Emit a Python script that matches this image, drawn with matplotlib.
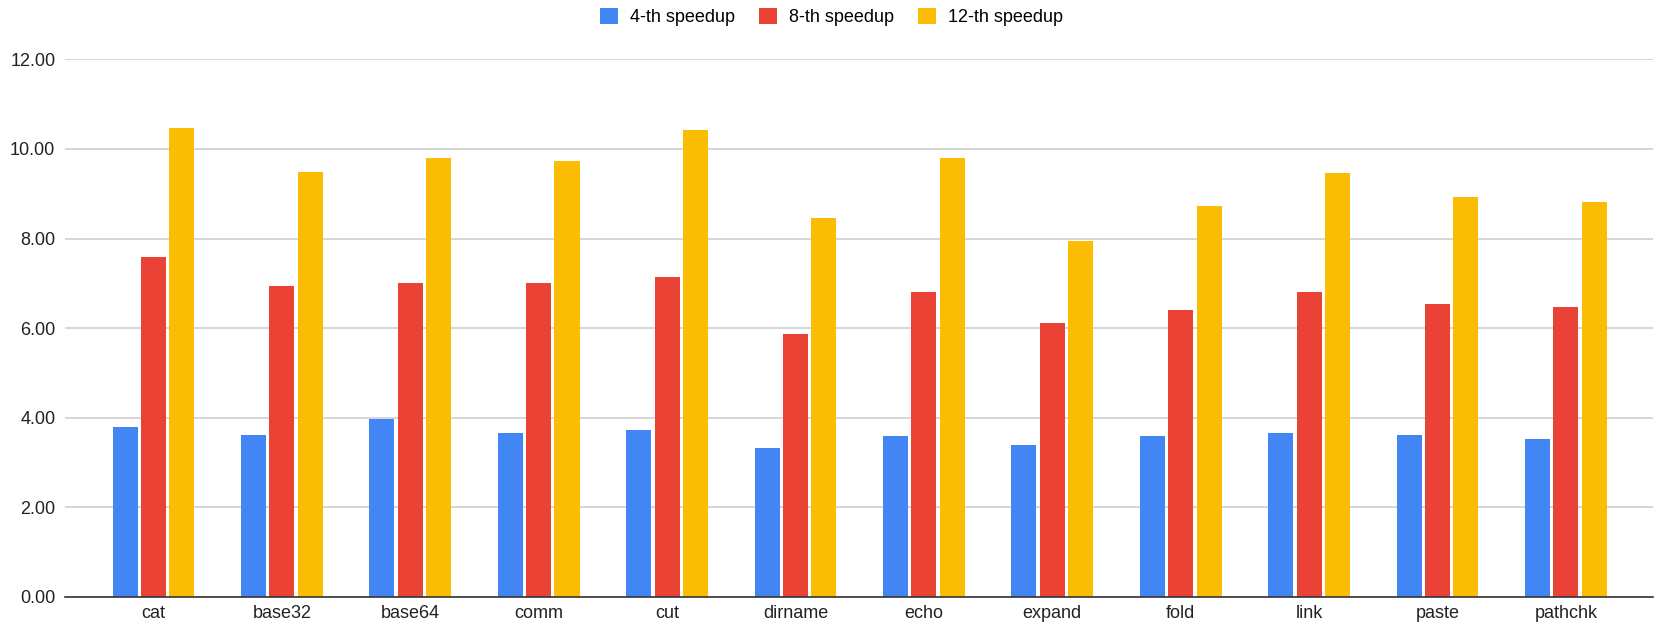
import numpy as np
import matplotlib as mpl
import matplotlib.pyplot as plt

mpl.rcParams['font.family'] = ['Liberation Sans', 'DejaVu Sans']

# data
tools = ['cat', 'base32', 'base64', 'comm', 'cut', 'dirname', 'echo',
         'expand', 'fold', 'link', 'paste', 'pathchk']
speedup_4 = [3.79, 3.62, 3.97, 3.66, 3.72, 3.32, 3.59, 3.39, 3.59, 3.65, 3.62, 3.53]
speedup_8 = [7.58, 6.94, 7.01, 7.01, 7.15, 5.87, 6.81, 6.11, 6.41, 6.81, 6.54, 6.48]
speedup_12 = [10.46, 9.49, 9.79, 9.73, 10.43, 8.45, 9.79, 7.95, 8.72, 9.46, 8.92, 8.82]
labels = ['4-th speedup', '8-th speedup', '12-th speedup']
colors = ['#4285F4', '#EA4335', '#FBBC04']

fig = plt.figure(figsize=(16.56, 6.24), dpi=100)
ax = fig.add_axes([0.0393, 0.0433, 0.959, 0.8617])

x = np.arange(len(tools))
w = 0.195
pitch = 0.221
for i, (vals, lbl, c) in enumerate(zip([speedup_4, speedup_8, speedup_12], labels, colors)):
  ax.bar(x + (i - 1) * pitch, vals, width=w, color=c, label=lbl, zorder=3)

ax.set_ylim(0, 12)
ax.set_xlim(-0.688, 11.68)
ax.set_yticks(np.arange(0, 13, 2))
ax.set_yticklabels(['%.2f' % v for v in np.arange(0, 13, 2)])
ax.set_xticks(x)
ax.set_xticklabels(tools)
ax.tick_params(axis='both', length=0, labelsize=13, colors='#222222')
ax.tick_params(axis='y', pad=7)
ax.tick_params(axis='x', pad=6)
ax.yaxis.grid(True, color='#d0d0d0', linewidth=1.2, zorder=0)
for s in ['top', 'right', 'left']:
  ax.spines[s].set_visible(False)
ax.spines['bottom'].set_color('#333333')
ax.spines['bottom'].set_linewidth(1.2)
ax.spines['bottom'].set_zorder(4)

leg = fig.legend(loc='center', bbox_to_anchor=(0.502, 0.972), ncol=3, frameon=False,
                 fontsize=13, handlelength=1.0, handleheight=0.95, handletextpad=0.67,
                 columnspacing=1.33)

fig.savefig('out.png', dpi=100)
